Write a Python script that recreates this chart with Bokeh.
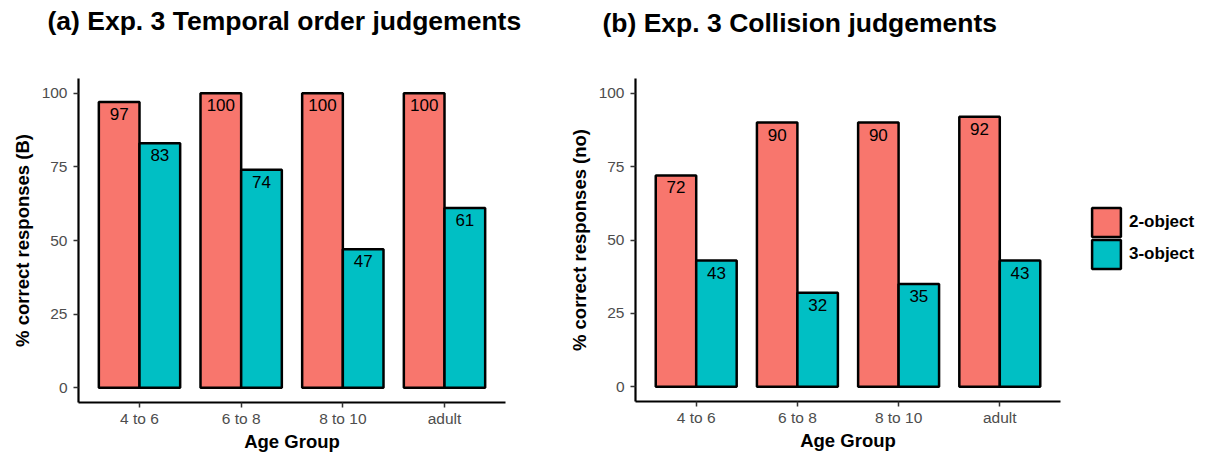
from bokeh.plotting import figure
from bokeh.models import ColumnDataSource, FactorRange, Range1d, FixedTicker, Legend, LegendItem, Title
from bokeh.transform import dodge
from bokeh.layouts import row
from bokeh.core.properties import value
from bokeh.embed import file_html
from bokeh.resources import INLINE

# ---- data ----
groups = ["4 to 6", "6 to 8", "8 to 10", "adult"]
series_names = ["2-object", "3-object"]
temporal_two = [97, 100, 100, 100]
temporal_three = [83, 74, 47, 61]
collision_two = [72, 90, 90, 92]
collision_three = [43, 32, 35, 43]
y_ticks = [0, 25, 50, 75, 100]

FONT = "Liberation Sans"
RED = "#F8766D"
TEAL = "#00BFC4"


def make_panel(title, ylabel, two, three, left, top, frame_w, frame_h, right, title_dx, gap):
    src = ColumnDataSource(dict(
        group=groups, two=two, three=three,
        two_lbl=[str(v) for v in two], three_lbl=[str(v) for v in three]))
    p = figure(x_range=FactorRange(*groups, range_padding=0.1, range_padding_units="absolute"),
               y_range=Range1d(-5, 105),
               frame_width=frame_w, frame_height=frame_h,
               min_border_left=left, min_border_top=top, min_border_right=right,
               min_border_bottom=10,
               output_backend="svg", toolbar_location=None)

    for col, off, color in (("two", -0.2, RED), ("three", 0.2, TEAL)):
        p.vbar(x=dodge("group", off, range=p.x_range), top=col, bottom=0, width=0.4,
               source=src, fill_color=color, line_color="black", line_width=2.5)
        p.text(x=dodge("group", off, range=p.x_range), y=col, text=col + "_lbl", source=src,
               text_align="center", text_baseline="top", y_offset=6,
               text_font=value(FONT), text_font_size="17px", text_color="black")

    # spacer between plotting area and the panel title, then the title itself
    p.add_layout(Title(text=" ", text_font_size="10px", standoff=gap), "above")
    p.add_layout(Title(text=title, align="left", offset=title_dx, standoff=6.5,
                       text_font=FONT, text_font_size="26.5px", text_font_style="bold",
                       text_color="black"), "above")

    p.xgrid.grid_line_color = None
    p.ygrid.grid_line_color = None
    p.outline_line_color = None
    p.background_fill_color = "white"
    p.border_fill_color = "white"
    p.yaxis.ticker = FixedTicker(ticks=y_ticks)
    for ax in (p.xaxis[0], p.yaxis[0]):
        ax.axis_line_color = "black"
        ax.axis_line_width = 2.2
        ax.major_tick_line_color = "#333333"
        ax.major_tick_line_width = 1.5
        ax.major_tick_out = 5
        ax.major_tick_in = 0
        ax.minor_tick_line_color = None
        ax.major_label_text_font = FONT
        ax.major_label_text_font_size = "15.5px"
        ax.major_label_text_color = "#4D4D4D"
        ax.axis_label_text_font = FONT
        ax.axis_label_text_font_size = "18.5px"
        ax.axis_label_text_font_style = "bold"
        ax.axis_label_text_color = "black"
    p.xaxis.major_label_standoff = 2
    p.xaxis.axis_label_standoff = 1
    p.yaxis.major_label_standoff = 6
    p.yaxis.axis_label_standoff = 6
    p.xaxis.axis_label = "Age Group"
    p.yaxis.axis_label = ylabel
    return p


p1 = make_panel("(a) Exp. 3 Temporal order judgements", "% correct responses (B)",
                temporal_two, temporal_three, 78, 77, 427, 324, 60, -31, 25.5)
p2 = make_panel("(b) Exp. 3 Collision judgements", "% correct responses (no)",
                collision_two, collision_three, 70, 75, 425, 323, 5, -33, 23.5)

# legend panel (dummy renderers with no drawable data, used only for legend keys)
p3 = figure(width=135, height=440, x_range=Range1d(0, 1), y_range=Range1d(0, 1),
            x_axis_type=None, y_axis_type=None, min_border=0,
            output_backend="svg", toolbar_location=None)
p3.outline_line_color = None
key_src = ColumnDataSource(dict(x=[float("nan")], top=[float("nan")], bottom=[float("nan")]))
r_two = p3.vbar(x="x", top="top", bottom="bottom", width=0.1, source=key_src,
                fill_color=RED, line_color="black", line_width=2.5)
r_three = p3.vbar(x="x", top="top", bottom="bottom", width=0.1, source=key_src,
                  fill_color=TEAL, line_color="black", line_width=2.5)
for name, rend, ypos in ((series_names[0], r_two, 148), (series_names[1], r_three, 116)):
    lg = Legend(items=[LegendItem(label=name, renderers=[rend])],
                location=(23, ypos), glyph_width=36, glyph_height=36, spacing=0,
                padding=0, margin=0, border_line_color=None, background_fill_alpha=0,
                label_standoff=5, label_text_font=FONT, label_text_font_size="17px",
                label_text_font_style="bold", label_text_color="black")
    p3.add_layout(lg)

layout = row(p1, p2, p3)
open("out.html", "w").write(file_html(layout, INLINE))
